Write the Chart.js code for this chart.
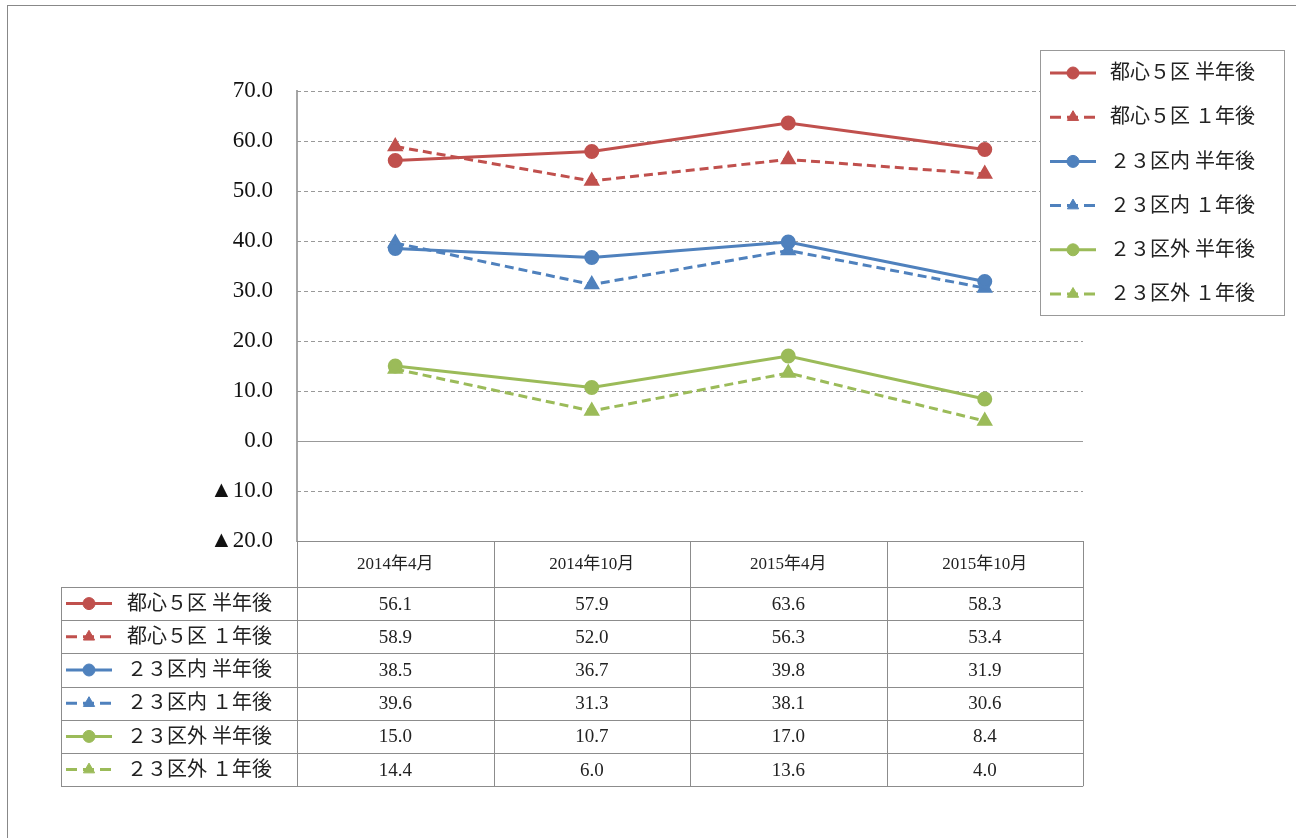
<!DOCTYPE html>
<html>
<head>
<meta charset="utf-8">
<script src="https://cdn.jsdelivr.net/npm/chart.js@4"></script>
<style>
  body { margin: 0; background: #fff; }
  #wrap { width: 1296px; height: 838px; position: relative; }
</style>
</head>
<body>
<div id="wrap"><canvas id="mycanvas" width="1296" height="838"></canvas></div>
<script>
// donnees
var categories = ['2014年4月', '2014年10月', '2015年4月', '2015年10月'];
var seriesNames = ['都心５区 半年後', '都心５区 １年後', '２３区内 半年後', '２３区内 １年後', '２３区外 半年後', '２３区外 １年後'];
var toshinHalf = [56.1, 57.9, 63.6, 58.3];
var toshinYear = [58.9, 52.0, 56.3, 53.4];
var naiHalf = [38.5, 36.7, 39.8, 31.9];
var naiYear = [39.6, 31.3, 38.1, 30.6];
var gaiHalf = [15.0, 10.7, 17.0, 8.4];
var gaiYear = [14.4, 6.0, 13.6, 4.0];
var yMin = -20, yMax = 70, yStep = 10;

var RED = '#C0504D', BLUE = '#4F81BD', GREEN = '#9BBB59';
var DASH = [9, 5];
var SERIF = '"Liberation Serif", "Noto Sans CJK JP"';
var GRAY = '#999999';

function mkSet(i, data, color, dashed) {
  return {
    label: seriesNames[i],
    data: data,
    borderColor: color,
    backgroundColor: color,
    borderWidth: 3,
    borderDash: dashed ? DASH : [],
    pointStyle: dashed ? 'triangle' : 'circle',
    pointRadius: dashed ? 6.5 : 6,
    pointHoverRadius: dashed ? 6.5 : 6,
    tension: 0
  };
}

var datasets = [
  mkSet(0, toshinHalf, RED, false),
  mkSet(1, toshinYear, RED, true),
  mkSet(2, naiHalf, BLUE, false),
  mkSet(3, naiYear, BLUE, true),
  mkSet(4, gaiHalf, GREEN, false),
  mkSet(5, gaiYear, GREEN, true)
];

function drawMarker(ctx, ds, x, y) {
  ctx.save();
  ctx.fillStyle = ds.backgroundColor;
  ctx.strokeStyle = ds.borderColor;
  ctx.lineWidth = 1;
  Chart.helpers.drawPoint(ctx, { pointStyle: ds.pointStyle, radius: ds.pointRadius, rotation: 0, borderWidth: 1 }, x, y);
  ctx.restore();
}

// petit dessin ligne + marqueur (legende et tableau)
function sampleLine(ctx, ds, x0, x1, y) {
  ctx.save();
  ctx.strokeStyle = ds.borderColor;
  ctx.lineWidth = 3;
  ctx.setLineDash(ds.borderDash.length ? [11, 6] : []);
  ctx.beginPath();
  ctx.moveTo(x0, y);
  ctx.lineTo(x1, y);
  ctx.stroke();
  ctx.restore();
  drawMarker(ctx, ds, (x0 + x1) / 2, y);
}

var gridPlugin = {
  id: 'grille',
  beforeDatasetsDraw: function(chart) {
    var ctx = chart.ctx, a = chart.chartArea, ys = chart.scales.y;
    ctx.save();
    ctx.lineWidth = 1;
    ctx.strokeStyle = GRAY;
    for (var v = yMin; v <= yMax; v += yStep) {
      var y = Math.round(ys.getPixelForValue(v)) + 0.5;
      ctx.setLineDash(v === 0 ? [] : [4, 3]);
      ctx.beginPath();
      ctx.moveTo(a.left, y);
      ctx.lineTo(a.right, y);
      ctx.stroke();
    }
    ctx.restore();
  },
  afterDraw: function(chart) {
    var ctx = chart.ctx, a = chart.chartArea, xs = chart.scales.x;
    ctx.save();
    // cadre exterieur
    ctx.strokeStyle = '#888';
    ctx.lineWidth = 1;
    ctx.strokeRect(7.5, 5.5, 1400, 1000);

    // legende
    var lx = 1040, ly = 50, lw = 244, lh = 265;
    ctx.fillStyle = '#fff';
    ctx.fillRect(lx, ly, lw, lh);
    ctx.strokeStyle = GRAY;
    ctx.strokeRect(lx + 0.5, ly + 0.5, lw, lh);
    ctx.font = '20px ' + SERIF;
    ctx.textBaseline = 'middle';
    ctx.textAlign = 'left';
    chart.data.datasets.forEach(function(ds, i) {
      var y = 73 + i * 44.2;
      sampleLine(ctx, ds, 1050, 1096, y);
      ctx.fillStyle = '#222';
      ctx.fillText(ds.label, 1110, y + 1);
    });

    // tableau des donnees
    var n = categories.length;
    var step = (a.right - a.left) / n;
    var top = a.bottom, headH = 46, rowH = 33.2, left = 61;
    var bottom = top + headH + rowH * datasets.length;
    ctx.strokeStyle = '#8c8c8c';
    ctx.lineWidth = 1;
    ctx.beginPath();
    // lignes horizontales
    ctx.moveTo(a.left, top + 0.5); ctx.lineTo(a.right, top + 0.5);
    for (var r = 0; r <= datasets.length; r++) {
      var yy = Math.round(top + headH + r * rowH) + 0.5;
      ctx.moveTo(left, yy); ctx.lineTo(a.right, yy);
    }
    // lignes verticales
    for (var c = 0; c <= n; c++) {
      var xx = Math.round(a.left + c * step) + 0.5;
      ctx.moveTo(xx, top); ctx.lineTo(xx, bottom);
    }
    ctx.moveTo(left + 0.5, top + headH); ctx.lineTo(left + 0.5, bottom);
    ctx.stroke();

    ctx.textAlign = 'center';
    ctx.fillStyle = '#222';
    ctx.font = '17px ' + SERIF;
    categories.forEach(function(cat, i) {
      ctx.fillText(cat, xs.getPixelForValue(i), top + headH / 2 + 1);
    });
    chart.data.datasets.forEach(function(ds, r) {
      var cy = top + headH + r * rowH + rowH / 2;
      ctx.font = '19px ' + SERIF;
      ds.data.forEach(function(v, i) {
        ctx.fillStyle = '#222';
        ctx.textAlign = 'center';
        ctx.fillText(v.toFixed(1), xs.getPixelForValue(i), cy + 1);
      });
      sampleLine(ctx, ds, 66, 112, cy);
      ctx.fillStyle = '#222';
      ctx.textAlign = 'left';
      ctx.font = '20px ' + SERIF;
      ctx.fillText(ds.label, 127, cy + 1);
    });
    ctx.restore();
  }
};

var ctx = document.getElementById('mycanvas');
var lineGraph = new Chart(ctx, {
  type: 'line',
  data: { labels: categories, datasets: datasets },
  options: {
    responsive: false,
    animation: false,
    layout: { padding: { left: 0, right: 213, top: 91, bottom: 297 } },
    plugins: { legend: { display: false }, tooltip: { enabled: false } },
    scales: {
      x: { display: false, offset: true },
      y: {
        min: yMin, max: yMax,
        afterFit: function(scale) { scale.width = 297; },
        grid: { display: false },
        border: { display: true, color: '#a6a6a6', width: 2 },
        ticks: {
          stepSize: yStep,
          padding: 16,
          color: '#111',
          font: { family: SERIF, size: 23 },
          callback: function(v) { return v < 0 ? '▲' + Math.abs(v).toFixed(1) : v.toFixed(1); }
        }
      }
    }
  },
  plugins: [gridPlugin]
});
</script>
</body>
</html>
